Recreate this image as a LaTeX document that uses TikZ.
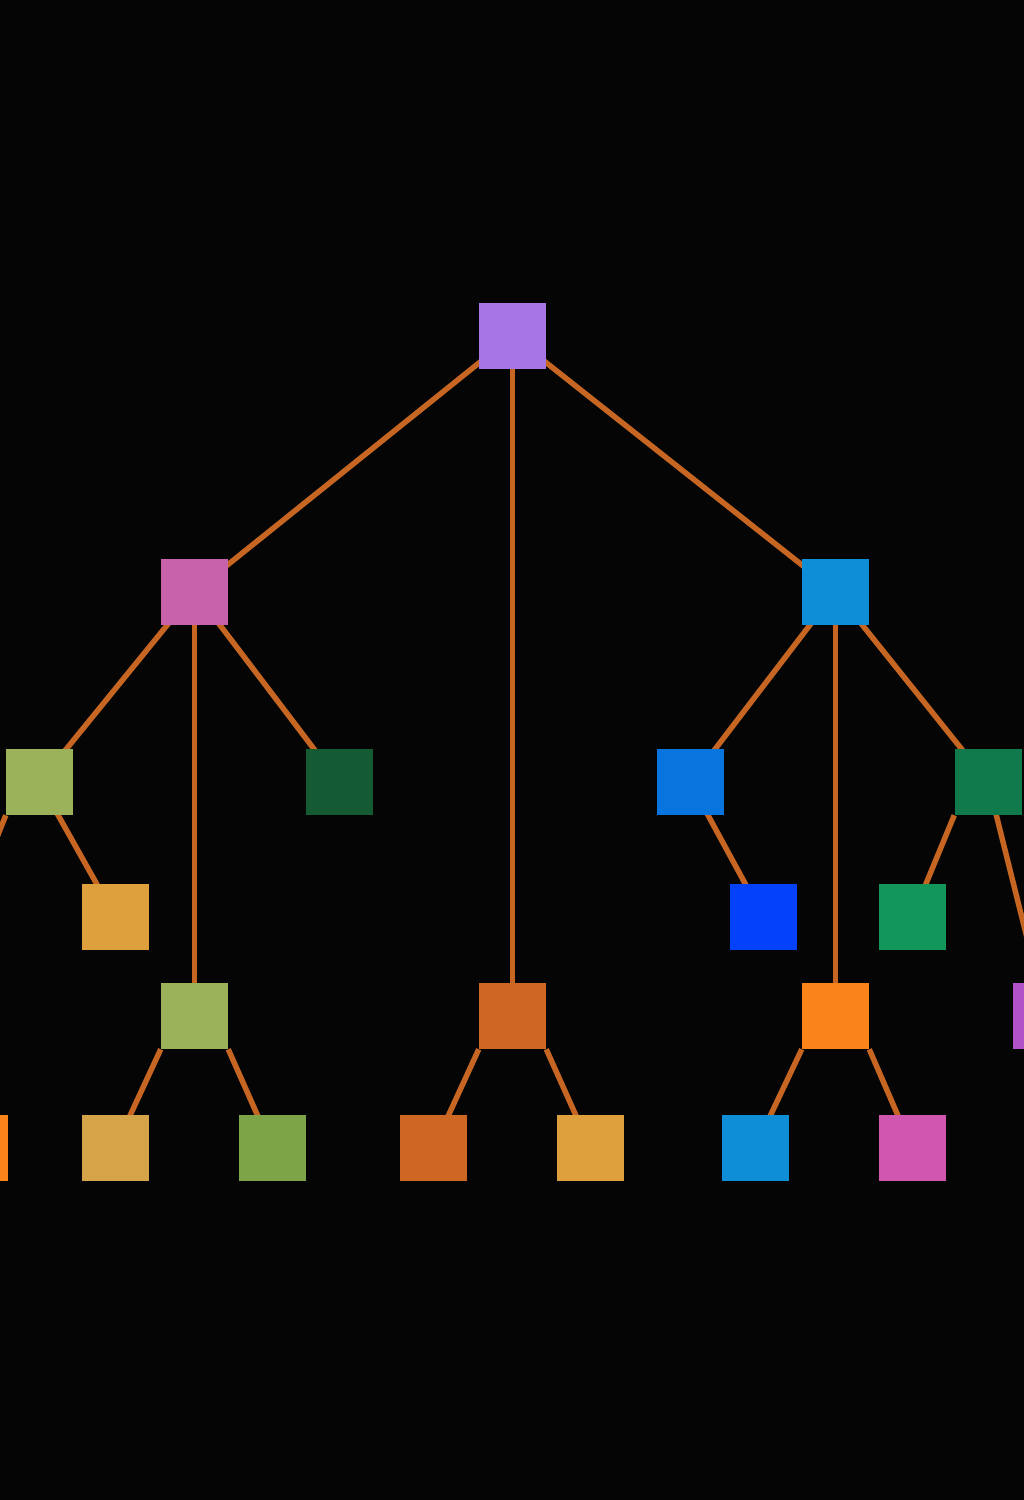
\documentclass[tikz,border=0pt]{standalone}
\usepackage{xcolor}
\usepackage{tikz}
\usetikzlibrary{backgrounds}

\definecolor{bgblack}{RGB}{5,5,5}
\definecolor{linkor}{RGB}{198,102,34}
\definecolor{cpurple}{RGB}{168,118,228}
\definecolor{cpink}{RGB}{200,98,170}
\definecolor{cskyblue}{RGB}{14,142,214}
\definecolor{colive}{RGB}{155,178,90}
\definecolor{cdkgreen}{RGB}{20,90,50}
\definecolor{cblue}{RGB}{8,116,222}
\definecolor{cgreen}{RGB}{16,122,76}
\definecolor{cyellow}{RGB}{222,160,60}
\definecolor{cdeepblue}{RGB}{4,66,250}
\definecolor{cmint}{RGB}{18,150,90}
\definecolor{crust}{RGB}{206,102,36}
\definecolor{corange}{RGB}{250,132,26}
\definecolor{cviolet}{RGB}{178,82,200}
\definecolor{csand}{RGB}{214,164,72}
\definecolor{cleaf}{RGB}{126,164,72}
\definecolor{cmagenta}{RGB}{208,86,176}

\begin{document}
\begin{tikzpicture}[x=0.75pt,y=0.75pt,yscale=-1,xscale=1,
    box/.style={draw=none,minimum width=50.25pt,minimum height=49.5pt,inner sep=0pt},
    link/.style={draw=linkor,line width=4.1pt}]
    \useasboundingbox (0,0) rectangle (1024,1500);
    \clip (0,0) rectangle (1024,1500);

    % top and first level
    \node[box,fill=cpurple] (root) at (512.5,336) {};
    \node[box,fill=cpink] (lefthub) at (194.5,591.5) {};
    \node[box,fill=cskyblue] (righthub) at (835.5,591.5) {};

    % second level
    \node[box,fill=colive] (olivea) at (39.5,782) {};
    \node[box,fill=cdkgreen] (dkgreen) at (339,782) {};
    \node[box,fill=cblue] (bluea) at (690,782) {};
    \node[box,fill=cgreen] (greena) at (988,782) {};

    % third level
    \node[box,fill=cyellow] (yellowa) at (115,916.5) {};
    \node[box,fill=cdeepblue] (deepblue) at (763,916.5) {};
    \node[box,fill=cmint] (mint) at (912.5,916.5) {};

    % fourth level
    \node[box,fill=colive] (oliveb) at (194.5,1016) {};
    \node[box,fill=crust] (rusta) at (512.5,1016) {};
    \node[box,fill=corange] (orangea) at (835.5,1016) {};
    \node[box,fill=cviolet] (violet) at (1046.5,1016) {};

    % bottom row
    \node[box,fill=corange] (orangeb) at (-25.5,1148) {};
    \node[box,fill=csand] (sand) at (115,1148) {};
    \node[box,fill=cleaf] (leaf) at (272,1148) {};
    \node[box,fill=crust] (rustb) at (433.5,1148) {};
    \node[box,fill=cyellow] (yellowb) at (590.5,1148) {};
    \node[box,fill=cskyblue] (blueb) at (755,1148) {};
    \node[box,fill=cmagenta] (magenta) at (912,1148) {};

    \coordinate (offleft) at (-12,860);

    \begin{pgfonlayer}{background}
    \fill[bgblack] (0,0) rectangle (1024,1500);
    % links
    \draw[link] (root.center) -- (lefthub.center);
    \draw[link] (root.center) -- (rusta.center);
    \draw[link] (root.center) -- (righthub.center);
    \draw[link] (lefthub.center) -- (olivea.center);
    \draw[link] (lefthub.center) -- (oliveb.center);
    \draw[link] (lefthub.center) -- (dkgreen.center);
    \draw[link] (righthub.center) -- (bluea.center);
    \draw[link] (righthub.center) -- (orangea.center);
    \draw[link] (righthub.center) -- (greena.center);
    \draw[link] (olivea.south west) -- (offleft);
    \draw[link] (olivea.center) -- (yellowa.center);
    \draw[link] (bluea.center) -- (deepblue.center);
    \draw[link] (greena.south west) -- (mint.center);
    \draw[link] (greena.center) -- (violet.center);
    \draw[link] (oliveb.south west) -- (sand.center);
    \draw[link] (oliveb.south east) -- (leaf.center);
    \draw[link] (rusta.south west) -- (rustb.center);
    \draw[link] (rusta.south east) -- (yellowb.center);
    \draw[link] (orangea.south west) -- (blueb.center);
    \draw[link] (orangea.south east) -- (magenta.center);
    \end{pgfonlayer}
\end{tikzpicture}
\end{document}
